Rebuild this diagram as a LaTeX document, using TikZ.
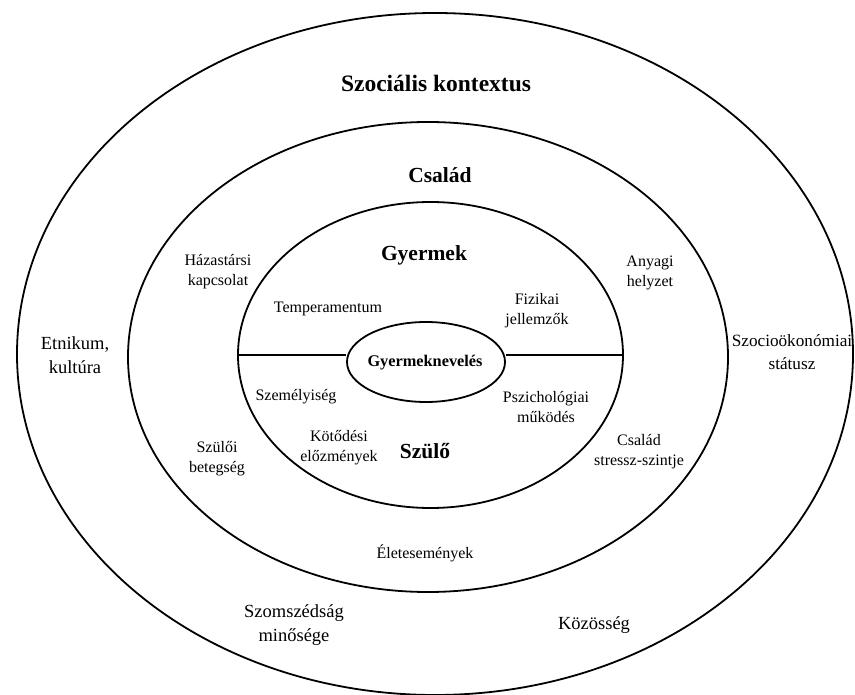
\documentclass[tikz,border=0pt]{standalone}
\usepackage{fontspec}
\setmainfont{Liberation Serif}
\usetikzlibrary{shapes.geometric}
\begin{document}
\begin{tikzpicture}[x=1pt,y=-1pt,
  ring/.style={draw=black, ellipse, line width=1.8pt, inner sep=0pt},
  inlab/.style={align=center, inner sep=0pt, font=\fontsize{16}{20}\selectfont},
  outlab/.style={align=center, inner sep=0pt, font=\fontsize{18.5}{24}\selectfont},
  head/.style={align=center, inner sep=0pt, font=\bfseries\fontsize{21.5}{26}\selectfont}]
\useasboundingbox[fill=white] (0,0) rectangle (855,695);
% rings
\node[ring, minimum width=836pt, minimum height=682pt] (outer) at (435,354) {};
\node[ring, minimum width=600pt, minimum height=470pt] (middle) at (428,357) {};
\node[ring, minimum width=385pt, minimum height=306pt] (inner) at (430.5,355) {};
\node[ring, minimum width=158pt, minimum height=80pt] (core) at (426,362) {};
\node[inner sep=0pt, font=\bfseries\fontsize{16.3}{20}\selectfont] (gyn) at (425,363) {Gyermeknevelés};
\draw[line width=1.8pt] (inner.west) -- (inner.west -| core.west);
\draw[line width=1.8pt] (inner.east) -- (inner.east -| core.east);
% headings
\node[head, font=\bfseries\fontsize{23.5}{28}\selectfont] (szk) at (436,83) {Szociális kontextus};
\node[head] (csal) at (440,175) {Család};
\node[head] (gyer) at (424,255) {Gyermek};
\node[head] (szulo) at (425,451) {Szülő};
% inner labels
\node[inlab] (temp) at (328,309) {Temperamentum};
\node[inlab] (fiz) at (537,311) {Fizikai\\jellemzők};
\node[inlab] (szem) at (296,397) {Személyiség};
\node[inlab] (pszi) at (546,407) {Pszichológiai\\működés};
\node[inlab] (kot) at (339,448) {Kötődési\\előzmények};
% family ring labels
\node[inlab] (haz) at (218,272) {Házastársi\\kapcsolat};
\node[inlab] (szb) at (217,459) {Szülői\\betegség};
\node[inlab] (any) at (650,273) {Anyagi\\helyzet};
\node[inlab] (css) at (639,452) {Család\\stressz-szintje};
\node[inlab] (elet) at (425,553) {Életesemények};
% outer ring labels
\node[outlab] (etn) at (75,355) {Etnikum,\\kultúra};
\node[outlab, font=\fontsize{17.2}{23}\selectfont] (szoc) at (792,352) {Szocioökonómiai\\státusz};
\node[outlab] (szom) at (294,625) {Szomszédság\\minősége};
\node[outlab] (koz) at (594,625) {Közösség};
\end{tikzpicture}
\end{document}
